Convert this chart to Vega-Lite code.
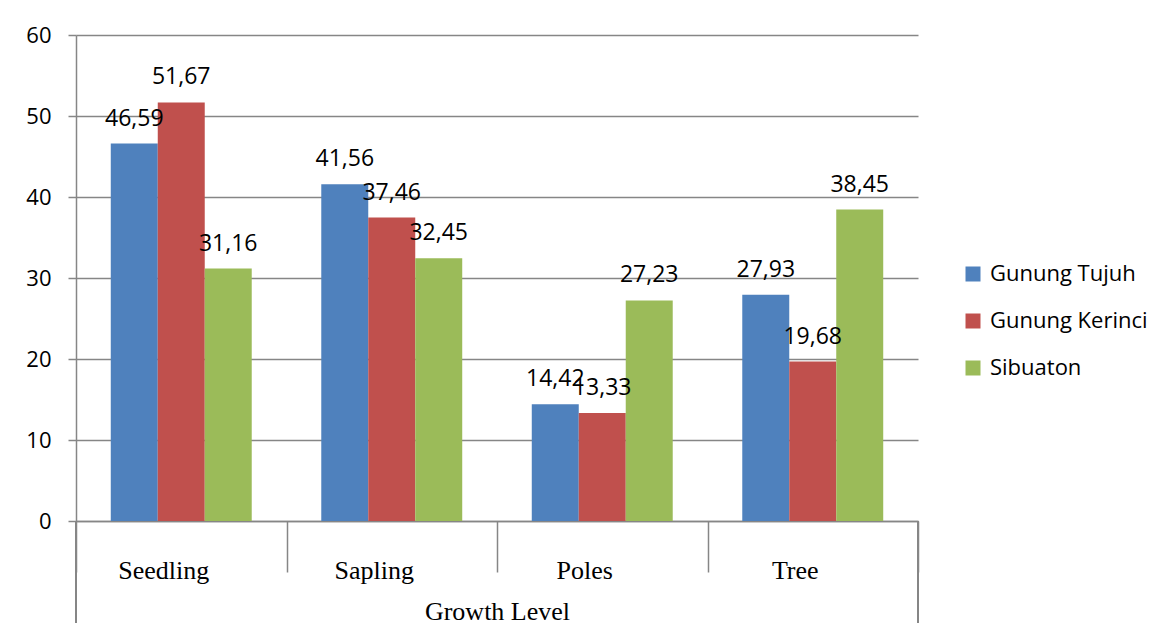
{
  "$schema": "https://vega.github.io/schema/vega-lite/v6.json",
  "width": 842,
  "height": 486,
  "autosize": {"type": "none"},
  "padding": {"left": 76, "top": 35, "right": 251, "bottom": 116},
  "background": "white",
  "config": {
    "locale": {"number": {"decimal": ",", "thousands": ".", "grouping": [3], "currency": ["", ""]}},
    "view": {"stroke": null},
    "axis": {"gridColor": "#868686", "domainColor": "#868686", "tickColor": "#868686", "gridWidth": 1.5, "domainWidth": 1.5, "tickWidth": 1.5, "labelColor": "black", "titleColor": "black"}
  },
  "data": {
    "values": [
      {"level": "Seedling", "site": "Gunung Tujuh", "value": 46.59},
      {"level": "Seedling", "site": "Gunung Kerinci", "value": 51.67},
      {"level": "Seedling", "site": "Sibuaton", "value": 31.16},
      {"level": "Sapling", "site": "Gunung Tujuh", "value": 41.56},
      {"level": "Sapling", "site": "Gunung Kerinci", "value": 37.46},
      {"level": "Sapling", "site": "Sibuaton", "value": 32.45},
      {"level": "Poles", "site": "Gunung Tujuh", "value": 14.42},
      {"level": "Poles", "site": "Gunung Kerinci", "value": 13.33},
      {"level": "Poles", "site": "Sibuaton", "value": 27.23},
      {"level": "Tree", "site": "Gunung Tujuh", "value": 27.93},
      {"level": "Tree", "site": "Gunung Kerinci", "value": 19.68},
      {"level": "Tree", "site": "Sibuaton", "value": 38.45}
    ]
  },
  "encoding": {
    "x": {
      "field": "level", "type": "nominal", "sort": ["Seedling", "Sapling", "Poles", "Tree"],
      "scale": {"paddingInner": 0, "paddingOuter": 0},
      "axis": {
        "title": "Growth Level", "labelAngle": 0, "tickBand": "extent", "tickSize": 51,
        "labelFont": "Liberation Serif", "labelFontSize": 26, "labelBaseline": "alphabetic", "labelPadding": 6, "labelOffset": -18,
        "titleFont": "Liberation Serif", "titleFontSize": 26, "titleFontWeight": "normal", "titlePadding": 36, "titleBaseline": "alphabetic"
      }
    },
    "xOffset": {
      "field": "site", "type": "nominal", "sort": ["Gunung Tujuh", "Gunung Kerinci", "Sibuaton"],
      "scale": {"paddingInner": 0, "paddingOuter": 0.74}
    }
  },
  "layer": [
    {
      "mark": {"type": "bar"},
      "encoding": {
        "y": {
          "field": "value", "type": "quantitative",
          "scale": {"domain": [0, 60], "nice": false},
          "axis": {"title": null, "values": [0, 10, 20, 30, 40, 50, 60], "tickSize": 8, "labelPadding": 17, "labelFont": "Open Sans", "labelFontSize": 22, "grid": true}
        },
        "color": {
          "field": "site", "type": "nominal", "sort": ["Gunung Tujuh", "Gunung Kerinci", "Sibuaton"],
          "scale": {"domain": ["Gunung Tujuh", "Gunung Kerinci", "Sibuaton"], "range": ["#4F81BD", "#C0504D", "#9BBB59"]},
          "legend": {
            "title": null, "orient": "none", "legendX": 886, "legendY": 228, "padding": 0,
            "symbolType": "square", "symbolSize": 225, "symbolStrokeWidth": 0, "symbolOpacity": 1,
            "labelFont": "Open Sans", "labelFontSize": 22, "labelOffset": 6, "rowPadding": 25, "labelColor": "black"
          }
        }
      }
    },
    {
      "mark": {"type": "text", "font": "Open Sans", "fontSize": 23, "baseline": "alphabetic", "dy": -18, "color": "black"},
      "encoding": {
        "y": {"field": "value", "type": "quantitative"},
        "text": {"field": "value", "type": "quantitative", "format": ".2f"}
      }
    },
    {
      "mark": {"type": "rule", "color": "#868686", "strokeWidth": 1.5, "clip": false},
      "encoding": {
        "x": {"datum": "Seedling", "bandPosition": 0},
        "xOffset": null,
        "y": {"datum": 0},
        "y2": {"datum": -12.6}
      }
    },
    {
      "mark": {"type": "rule", "color": "#868686", "strokeWidth": 1.5, "clip": false},
      "encoding": {
        "x": {"datum": "Tree", "bandPosition": 1},
        "xOffset": null,
        "y": {"datum": 0},
        "y2": {"datum": -12.6}
      }
    }
  ]
}
